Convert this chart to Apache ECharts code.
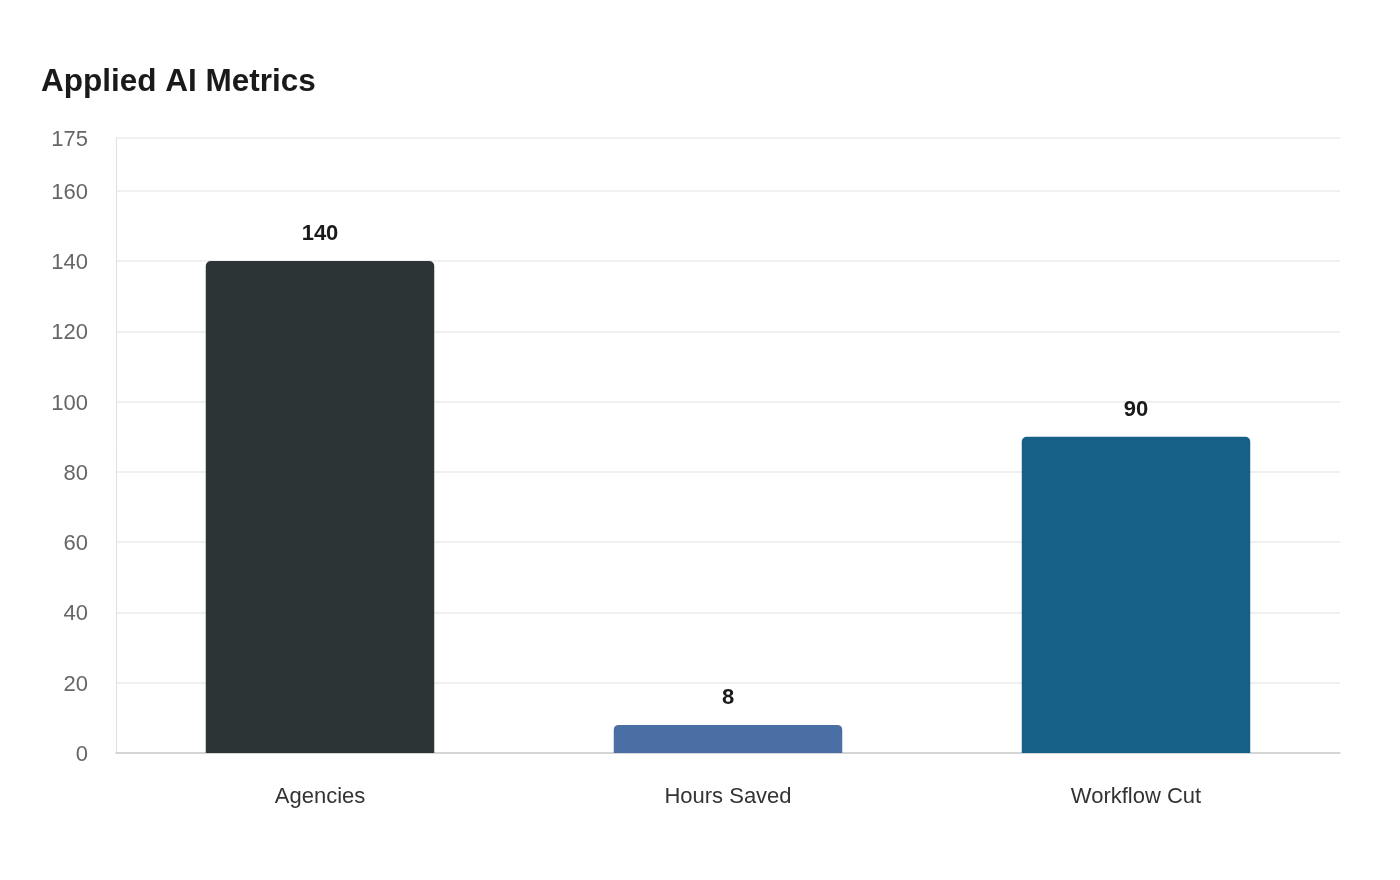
<!DOCTYPE html>
<html>
<head>
<meta charset="utf-8">
<script src="https://cdn.jsdelivr.net/npm/echarts@6/dist/echarts.min.js"></script>
<style>
  html, body { margin: 0; padding: 0; background: #fff; }
  #main { width: 1400px; height: 880px; }
</style>
</head>
<body>
<div id="main"></div>
<script>
var categories = ['Agencies', 'Hours Saved', 'Workflow Cut'];
var values = [140, 8, 90];
var barColors = ['#2d3436', '#4a6fa5', '#166088'];

var myChart = echarts.init(document.getElementById('main'));

var option = {
	backgroundColor: '#ffffff',
	textStyle: { fontFamily: 'Liberation Sans, Arial, sans-serif' },
	title: {
		text: 'Applied AI Metrics',
		left: 36,
		top: 61,
		textStyle: {
			fontSize: 31.5,
			fontWeight: 'bold',
			color: '#1a1a1a',
			fontFamily: 'Liberation Sans, Arial, sans-serif'
		}
	},
	grid: {
		left: 116,
		right: 60,
		top: 138,
		bottom: 127
	},
	xAxis: {
		type: 'category',
		data: categories,
		axisLine: { lineStyle: { color: '#cccccc', width: 1.5 } },
		axisTick: { show: false },
		axisLabel: {
			fontSize: 22,
			color: '#333333',
			margin: 33
		}
	},
	yAxis: {
		type: 'value',
		min: 0,
		max: 175,
		interval: 20,
		axisLine: { show: true, lineStyle: { color: '#e0e0e0' } },
		axisTick: { show: false },
		axisLabel: {
			fontSize: 22,
			color: '#666666',
			margin: 28,
			verticalAlign: 'top',
			padding: [-9, 0, 0, 0]
		},
		splitLine: { lineStyle: { color: '#ebebeb', width: 1.5 } }
	},
	series: [
		{
			type: 'bar',
			data: values.map(function (v, i) {
				return { value: v, itemStyle: { color: barColors[i] } };
			}),
			barWidth: '56%',
			itemStyle: { borderRadius: [5, 5, 0, 0] },
			label: {
				show: true,
				position: 'top',
				distance: 16,
				fontSize: 22,
				fontWeight: 'bold',
				color: '#1a1a1a'
			}
		}
	]
};

myChart.setOption(option);
</script>
</body>
</html>
